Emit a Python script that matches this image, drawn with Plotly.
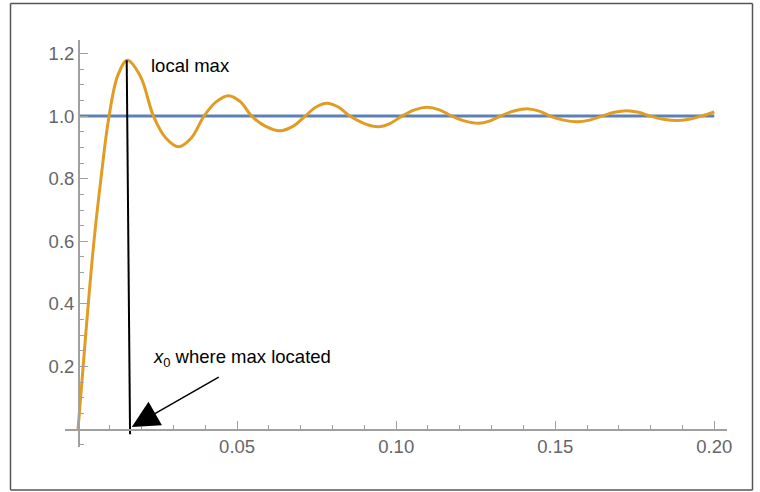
import plotly.graph_objects as go

# ---- data ----
curve_x = [0.0, 0.0016, 0.0033, 0.0050, 0.0072, 0.0096, 0.0125, 0.0155,
           0.0196, 0.0237, 0.0276, 0.0316, 0.0356, 0.0396, 0.0435, 0.0473,
           0.0510, 0.0546, 0.0590, 0.0635, 0.0675, 0.0714, 0.0748, 0.0782,
           0.0818, 0.0855, 0.0900, 0.0944, 0.0980, 0.1018, 0.1058, 0.1097,
           0.1136, 0.1175, 0.1217, 0.1259, 0.1293, 0.1327, 0.1370, 0.1416,
           0.1450, 0.1484, 0.1526, 0.1568, 0.1608, 0.1647, 0.1686, 0.1725,
           0.1762, 0.1799, 0.1840, 0.1883, 0.1920, 0.1960, 0.2000]
curve_y = [0.0, 0.20, 0.41, 0.60, 0.80, 0.99, 1.13, 1.178,
           1.127, 1.00, 0.930, 0.902, 0.930, 1.00, 1.046, 1.065,
           1.046, 1.00, 0.967, 0.953, 0.967, 1.00, 1.029, 1.041,
           1.029, 1.00, 0.976, 0.966, 0.976, 1.00, 1.020, 1.028,
           1.020, 1.00, 0.984, 0.977, 0.984, 1.00, 1.016, 1.023,
           1.016, 1.00, 0.987, 0.982, 0.987, 1.00, 1.012, 1.017,
           1.012, 1.00, 0.990, 0.986, 0.990, 1.00, 1.013]

flat_x = [0.0, 0.2]
flat_y = [1.0, 1.0]

max_line_x = [0.0153, 0.01635]
max_line_y = [1.178, -0.016]

arrow_head = (0.0169, 0.007)
arrow_tail = (0.0447, 0.169)

x_major = [0.05, 0.10, 0.15, 0.20]
x_major_text = ["0.05", "0.10", "0.15", "0.20"]
x_minor = [0.01, 0.02, 0.03, 0.04, 0.06, 0.07, 0.08, 0.09, 0.11, 0.12, 0.13, 0.14,
           0.16, 0.17, 0.18, 0.19]
y_major = [0.2, 0.4, 0.6, 0.8, 1.0, 1.2]
y_major_text = ["0.2", "0.4", "0.6", "0.8", "1.0", "1.2"]
y_minor = [-0.05, 0.05, 0.1, 0.15, 0.25, 0.3, 0.35, 0.45, 0.5, 0.55, 0.65, 0.7, 0.75,
           0.85, 0.9, 0.95, 1.05, 1.1, 1.15]

label_max = "local max"
label_x0 = "<i>x</i><sub>0</sub> where max located"

# ---- layout geometry ----
W, H = 760, 492
ML, MR, MT, MB = 65, 33, 40, 45
xr = [-0.0041, 0.2040]
yr = [-0.057, 1.243]

pw = W - ML - MR
ph = H - MT - MB

def px2paper_x(p):
    return (p - ML) / pw

def px2paper_y(p):
    return (H - MB - p) / ph

blue = "#5E81B5"
orange = "#E19C24"
axis_col = "#a0a0a0"
font_fam = "Liberation Sans, Arial, sans-serif"

fig = go.Figure()
fig.add_trace(go.Scatter(x=flat_x, y=flat_y, mode="lines",
                         line=dict(color=blue, width=3), hoverinfo="skip"))
fig.add_trace(go.Scatter(x=curve_x, y=curve_y, mode="lines",
                         line=dict(color=orange, width=3, shape="spline", smoothing=1.0),
                         hoverinfo="skip"))
fig.add_trace(go.Scatter(x=max_line_x, y=max_line_y, mode="lines",
                         line=dict(color="black", width=2), hoverinfo="skip"))

fig.add_annotation(x=arrow_head[0], y=arrow_head[1], ax=arrow_tail[0], ay=arrow_tail[1],
                   xref="x", yref="y", axref="x", ayref="y", text="",
                   showarrow=True, arrowhead=2, arrowsize=3.6, arrowwidth=1.5,
                   arrowcolor="black")
fig.add_annotation(x=0.0224, y=1.160, xref="x", yref="y", text=label_max,
                   showarrow=False, xanchor="left", yanchor="middle",
                   font=dict(family=font_fam, size=18.5, color="black"))
fig.add_annotation(x=0.0230, y=0.228, xref="x", yref="y", text=label_x0,
                   showarrow=False, xanchor="left", yanchor="middle",
                   font=dict(family=font_fam, size=18.5, color="black"))

# outer frame (four edges)
fx0, fx1 = px2paper_x(10.5), px2paper_x(752.5)
fy0, fy1 = px2paper_y(490), px2paper_y(3.5)
for (a, b, c, d) in [(fx0, fy0, fx1, fy0), (fx0, fy1, fx1, fy1),
                     (fx0, fy0, fx0, fy1), (fx1, fy0, fx1, fy1)]:
    fig.add_shape(type="line", xref="paper", yref="paper", x0=a, y0=b, x1=c, y1=d,
                  line=dict(color="#555555", width=1.5))

axis_common = dict(showgrid=False, zeroline=False, showline=True, automargin=False,
                   linecolor=axis_col, linewidth=1.5, ticks="inside", ticklen=8,
                   tickwidth=1, tickcolor=axis_col, tickmode="array",
                   tickfont=dict(family=font_fam, size=18.5, color="#666666"))

fig.update_layout(
    width=W, height=H,
    margin=dict(l=ML, r=MR, t=MT, b=MB, pad=0, autoexpand=False),
    paper_bgcolor="white", plot_bgcolor="white",
    showlegend=False,
    font=dict(family=font_fam, size=18, color="#666666"),
    xaxis=dict(range=xr, anchor="free", position=(0 - yr[0]) / (yr[1] - yr[0]),
               tickvals=x_major, ticktext=x_major_text,
               minor=dict(tickmode="array", tickvals=x_minor, ticks="inside",
                          ticklen=4, tickwidth=1, tickcolor=axis_col),
               **axis_common),
    yaxis=dict(range=yr, anchor="free", position=(0 - xr[0]) / (xr[1] - xr[0]),
               tickvals=y_major, ticktext=y_major_text,
               minor=dict(tickmode="array", tickvals=y_minor, ticks="inside",
                          ticklen=4, tickwidth=1, tickcolor=axis_col),
               **axis_common),
)

fig.write_html("out.html",
               config={"displayModeBar": False, "staticPlot": True},
               post_script="document.body.style.margin='0px';"
                           "document.body.style.overflow='hidden';")
